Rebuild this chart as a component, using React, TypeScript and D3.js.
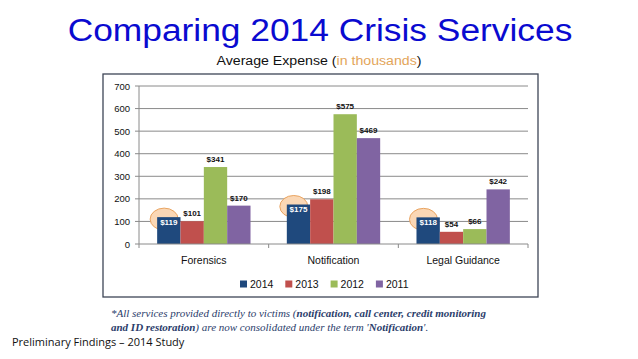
import React from "react";
import * as d3 from "d3";

const categories = ["Forensics", "Notification", "Legal Guidance"];
const seriesNames = ["2014", "2013", "2012", "2011"];
const values2014 = [119, 175, 118];
const values2013 = [101, 198, 54];
const values2012 = [341, 575, 66];
const values2011 = [170, 469, 242];
const yTicks = [0, 100, 200, 300, 400, 500, 600, 700];
const colors = ["#1f497d", "#c0504d", "#9bbb59", "#8064a2"];

const seriesValues = [values2014, values2013, values2012, values2011];

export default function App() {
  const W = 638, H = 359;
  const plotLeft = 139, plotRight = 528, plotTop = 86, plotBottom = 244;
  const x0 = d3.scaleBand().domain(categories).range([plotLeft, plotRight]).paddingInner(0).paddingOuter(0);
  const groupPad = 0.14;
  const x1 = d3.scaleBand().domain(seriesNames).range([x0.bandwidth() * groupPad, x0.bandwidth() * (1 - groupPad)]);
  const y = d3.scaleLinear().domain([0, 700]).range([plotBottom, plotTop]);
  const font = "Liberation Sans, Arial, sans-serif";
  const boundaries = [0, 1, 2, 3].map((i) => plotLeft + i * x0.bandwidth());

  return (
    <svg width={W} height={H} style={{ position: "fixed", left: 0, top: 0, background: "#fff" }}>
      <g transform="translate(320,41) scale(1.14,1)">
        <text x={0} y={0} textAnchor="middle" fontFamily={font} fontSize={31} fill="#0a0ad0">
          Comparing 2014 Crisis Services
        </text>
      </g>
      <g transform="translate(319,65) scale(1.16,1)">
        <text x={0} y={0} textAnchor="middle" fontFamily={font} fontSize={12.2} fill="#111">
          Average Expense (<tspan fill="#e3a55a">in thousands</tspan>)
        </text>
      </g>
      <rect x={103} y={74} width={435} height={223} fill="#fff" stroke="#3e4656" strokeWidth={1.3} />
      {yTicks.map((t) => (
        <g key={t}>
          <line x1={plotLeft - 4} x2={t === 0 ? plotLeft : plotRight} y1={y(t)} y2={y(t)} stroke="#8a8a8a" strokeWidth={1} />
          <text x={plotLeft - 9} y={y(t) + 3.5} textAnchor="end" fontFamily={font} fontSize={9.5} fill="#111">
            {t}
          </text>
        </g>
      ))}
      <line x1={plotLeft} x2={plotLeft} y1={plotTop} y2={plotBottom} stroke="#8a8a8a" />
      {categories.map((c, i) => {
        const bx = (x0(c) as number) + (x1("2014") as number);
        return (
          <ellipse key={"e" + c} cx={bx + 7} cy={y(values2014[i]) + 2} rx={14} ry={11} fill="#fad7b5" stroke="#e9a461" strokeWidth={1} />
        );
      })}
      {categories.map((c, i) => (
        <g key={c}>
          {seriesNames.map((s, j) => {
            const v = seriesValues[j][i];
            const bx = (x0(c) as number) + (x1(s) as number);
            return (
              <rect key={s} x={bx} y={y(v)} width={x1.bandwidth()} height={plotBottom - y(v)} fill={colors[j]} />
            );
          })}
        </g>
      ))}
      {categories.map((c, i) => (
        <g key={"l" + c}>
          {seriesNames.map((s, j) => {
            const v = seriesValues[j][i];
            const cx = (x0(c) as number) + (x1(s) as number) + x1.bandwidth() / 2;
            const inside = j === 0;
            return (
              <text key={s} x={cx} y={inside ? y(v) + 7.5 : y(v) - 5} textAnchor="middle" fontFamily={font} fontSize={8} fontWeight="bold" fill={inside ? "#fff" : "#111"}>
                ${v}
              </text>
            );
          })}
        </g>
      ))}
      <line x1={plotLeft} x2={plotRight} y1={plotBottom} y2={plotBottom} stroke="#8a8a8a" />
      {boundaries.map((b, i) => (
        <line key={"t" + i} x1={b} x2={b} y1={plotBottom} y2={plotBottom + 4} stroke="#8a8a8a" />
      ))}
      {categories.map((c) => (
        <text key={"c" + c} x={(x0(c) as number) + x0.bandwidth() / 2} y={264} textAnchor="middle" fontFamily={font} fontSize={10.5} fill="#111">
          {c}
        </text>
      ))}
      {seriesNames.map((s, j) => (
        <g key={"lg" + s} transform={`translate(${240 + j * 45.3},${284})`}>
          <rect x={0} y={-3.5} width={7} height={7} fill={colors[j]} />
          <text x={10} y={3.8} fontFamily={font} fontSize={10.5} fill="#111">
            {s}
          </text>
        </g>
      ))}
      <text x={111} y={317} fontFamily="Liberation Serif, serif" fontStyle="italic" fontSize={11} fill="#2b3d6b">
        *All services provided directly to victims (
        <tspan fontWeight="bold">notification, call center, credit monitoring</tspan>
      </text>
      <text x={111} y={331} fontFamily="Liberation Serif, serif" fontStyle="italic" fontSize={11} fill="#2b3d6b">
        <tspan fontWeight="bold">and ID restoration</tspan>) are now consolidated under the term '<tspan fontWeight="bold">Notification</tspan>'.
      </text>
      <text x={12} y={346} fontFamily="Open Sans, sans-serif" fontSize={11} fill="#111">
        Preliminary Findings – 2014 Study
      </text>
    </svg>
  );
}
